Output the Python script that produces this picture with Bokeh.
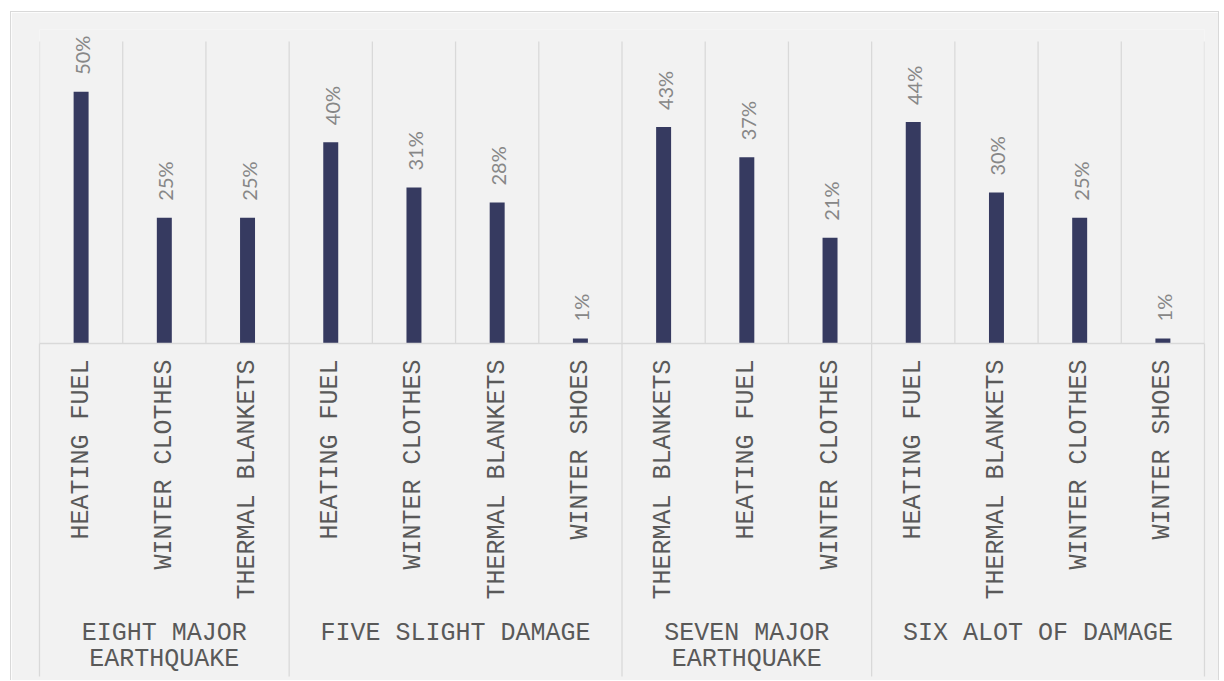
from bokeh.plotting import figure
from bokeh.models import FactorRange, ColumnDataSource, LabelSet, Range1d
from bokeh.embed import file_html
from bokeh.resources import INLINE
from bokeh.core.properties import value
import math

# ---- data ----
groups = ["EIGHT MAJOR\nEARTHQUAKE", "FIVE SLIGHT DAMAGE", "SEVEN MAJOR\nEARTHQUAKE", "SIX ALOT OF DAMAGE"]
items_eight = ["HEATING FUEL", "WINTER CLOTHES", "THERMAL BLANKETS"]
values_eight = [50, 25, 25]
items_five = ["HEATING FUEL", "WINTER CLOTHES", "THERMAL BLANKETS", "WINTER SHOES"]
values_five = [40, 31, 28, 1]
items_seven = ["THERMAL BLANKETS", "HEATING FUEL", "WINTER CLOTHES"]
values_seven = [43, 37, 21]
items_six = ["HEATING FUEL", "THERMAL BLANKETS", "WINTER CLOTHES", "WINTER SHOES"]
values_six = [44, 30, 25, 1]
axis_max = 60

all_items = [items_eight, items_five, items_seven, items_six]
all_values = [values_eight, values_five, values_seven, values_six]

factors, vals = [], []
for g, its, vs in zip(groups, all_items, all_values):
    for it, v in zip(its, vs):
        factors.append((g, it))
        vals.append(v)
labels = [f"{v}%" for v in vals]

src = ColumnDataSource(dict(x=factors, top=vals, label=labels))

CAT_FONT = "Liberation Mono"
VAL_FONT = "Lato"
GRID = "#d9d9d9"
PX_PER_UNIT = 302 / axis_max
HEAD = 12   # px of frame above the axis maximum, room for value labels
FOOT = 333  # px the group separators reach below the baseline

p = figure(
    x_range=FactorRange(*factors, factor_padding=0, group_padding=0, range_padding=0),
    y_range=Range1d(0, axis_max + HEAD / PX_PER_UNIT),
    frame_width=1165, frame_height=302 + HEAD,
    min_border_left=28, min_border_right=14, min_border_top=29 - HEAD, min_border_bottom=337,
    output_backend="svg", toolbar_location=None,
    background_fill_color="#f2f2f2", border_fill_color="#f2f2f2",
    y_axis_location=None,
)
p.styles = {"margin-left": "10px", "margin-top": "11px", "border": "1px solid #d9d9d9",
            "border-bottom-width": "0px"}
p.outline_line_color = None
p.grid.visible = False

# vertical separators between every bar slot
edges = [(g, it, -0.5) for (g, it) in factors] + [(factors[-1][0], factors[-1][1], 0.5)]
p.segment(x0=edges, x1=edges, y0=0, y1=axis_max, line_color=GRID, line_width=1.3)

# group boundaries (and the outer edges) continue down through the label area
group_edges = []
for g, its in zip(groups, all_items):
    group_edges.append((g, its[0], -0.5))
group_edges.append((groups[-1], all_items[-1][-1], 0.5))
p.segment(x0=group_edges, x1=group_edges, y0=0, y1=-FOOT / PX_PER_UNIT,
          line_color=GRID, line_width=1.3, level="overlay")

p.vbar(x="x", top="top", width=0.18, source=src, fill_color="#363a60", line_color=None)

lbl = LabelSet(x="x", y="top", text="label", source=src, angle=math.pi / 2,
               text_align="left", text_baseline="middle", x_offset=1, y_offset=17,
               text_font=value(VAL_FONT), text_font_size="20px", text_color="#878787")
p.add_layout(lbl)

ax = p.xaxis[0]
ax.axis_line_color = GRID
ax.axis_line_width = 1.3
ax.major_tick_line_color = None
ax.minor_tick_line_color = None
ax.major_tick_out = 0
ax.major_tick_in = 0
ax.major_label_standoff = 16
ax.major_label_orientation = math.pi / 2
ax.major_label_text_font = CAT_FONT
ax.major_label_text_font_size = "25px"
ax.major_label_text_color = "#595959"
ax.group_text_font = CAT_FONT
ax.group_text_font_size = "25px"
ax.group_text_font_style = "normal"
ax.group_text_color = "#595959"
ax.group_text_line_height = 0.92
ax.group_label_orientation = "horizontal"
ax.separator_line_color = None

open("out.html", "w").write(file_html(p, INLINE))
